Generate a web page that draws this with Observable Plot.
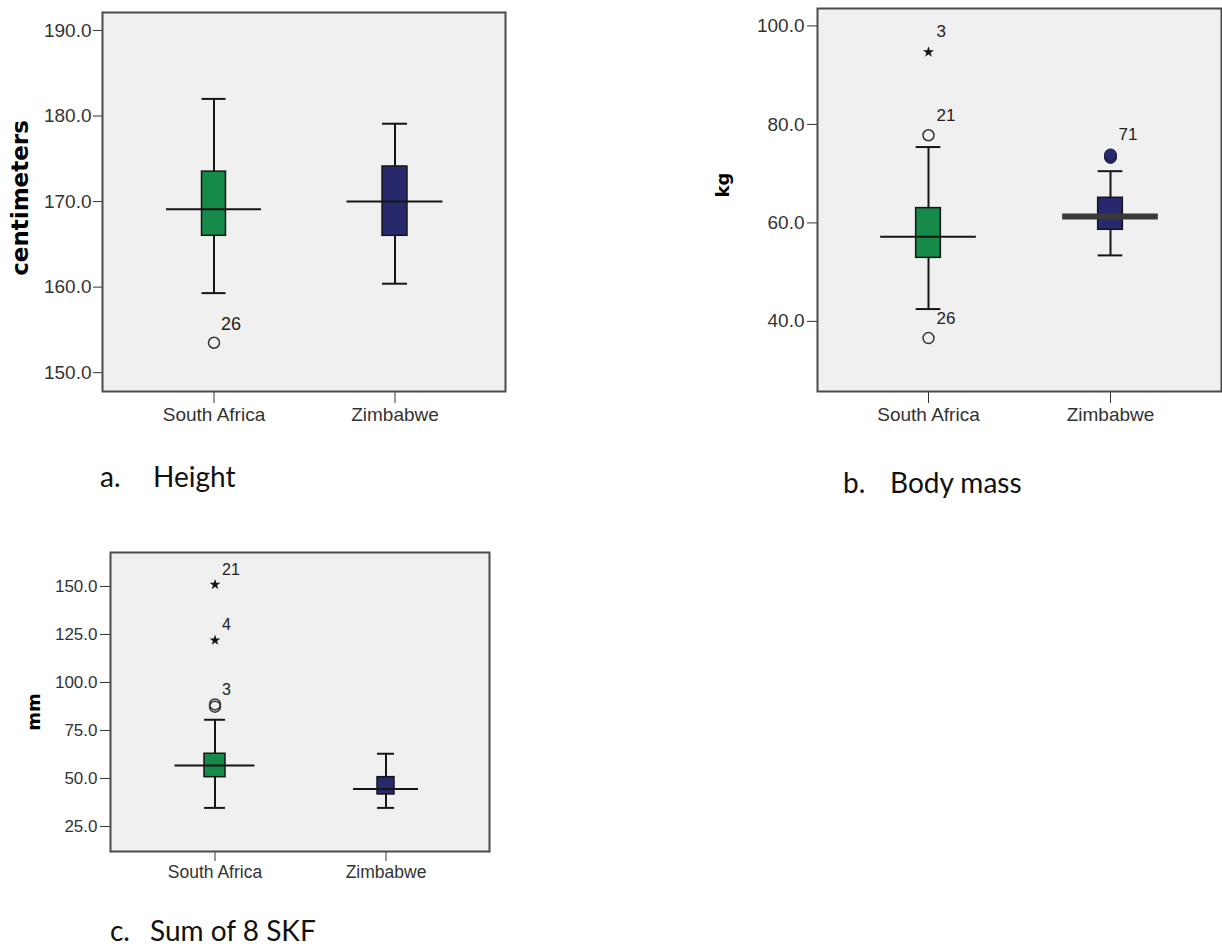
<!DOCTYPE html>
<html><head><meta charset="utf-8">
<script src="https://cdn.jsdelivr.net/npm/d3@7"></script>
<script src="https://cdn.jsdelivr.net/npm/@observablehq/plot@0.6"></script>
<style>
html,body{margin:0;padding:0;background:#fff;width:1222px;height:949px;overflow:hidden;}
#root{position:relative;width:1222px;height:949px;}
.panel{position:absolute;}
.ylab{position:absolute;font-family:"DejaVu Sans",sans-serif;font-weight:bold;color:#000;transform:translate(-50%,-50%) rotate(-90deg);white-space:nowrap;line-height:1;}
.cap{position:absolute;font-family:Lato,sans-serif;font-size:28px;color:#111;line-height:28px;white-space:nowrap;}
</style></head><body><div id="root"></div>
<script>
const countries = ["South Africa", "Zimbabwe"];
const boxColors = ["#168a48", "#28296d"];

// a. Height (centimeters)
const heightLow = [159.3, 160.4];
const heightQ1 = [166.0, 166.0];
const heightMedian = [169.1, 170.0];
const heightQ3 = [173.5, 174.1];
const heightHigh = [182.0, 179.1];
const heightOutCountry = ["South Africa"];
const heightOutValue = [153.5];
const heightOutLabel = ["26"];
const heightOutShape = ["circle"];
const heightTicks = [150, 160, 170, 180, 190];

// b. Body mass (kg)
const massLow = [42.5, 53.4];
const massQ1 = [52.9, 58.6];
const massMedian = [57.2, 61.3];
const massQ3 = [63.0, 65.1];
const massHigh = [75.4, 70.5];
const massOutCountry = ["South Africa", "South Africa", "South Africa", "Zimbabwe", "Zimbabwe"];
const massOutValue = [94.7, 77.8, 36.6, 73.3, 73.8];
const massOutLabel = ["3", "21", "26", "", "71"];
const massOutShape = ["star", "circle", "circle", "filled", "filled"];
const massTicks = [40, 60, 80, 100];

// c. Sum of 8 SKF (mm)
const skfLow = [34.7, 34.7];
const skfQ1 = [50.7, 41.7];
const skfMedian = [56.8, 44.6];
const skfQ3 = [62.9, 50.7];
const skfHigh = [80.6, 62.9];
const skfOutCountry = ["South Africa", "South Africa", "South Africa", "South Africa"];
const skfOutValue = [151.0, 122.0, 88.6, 87.4];
const skfOutLabel = ["21", "4", "3", ""];
const skfOutShape = ["star", "star", "circle", "circle"];
const skfTicks = [25, 50, 75, 100, 125, 150];

function statsRows(low, q1, med, q3, high) {
  return countries.map((c, i) => ({country: c, low: low[i], q1: q1[i], median: med[i], q3: q3[i], high: high[i]}));
}
function outlierRows(cs, vs, ls, ss) {
  return cs.map((c, i) => ({country: c, value: vs[i], label: ls[i], shape: ss[i]}));
}

function boxPanel(o) {
  const {stats, outliers, ticks, domain, width, height, m, po, boxW, medW, medStroke, medWidth,
         tickFont, catFont, labelFont, circleR, starR, dx, dy, yTick, yPad, xTick, xPad} = o;
  const bw = (width - m.left - m.right) / (countries.length + 2 * po);
  const marks = [Plot.frame({fill: "#f0f0f0"})];
  stats.forEach((d, i) => {
    const row = [d];
    const bi = (bw - boxW[i]) / 2;
    const mi = (bw - medW[i]) / 2;
    marks.push(Plot.ruleX(row, {x: "country", y1: "low", y2: "high", stroke: "#151515", strokeWidth: 2}));
    marks.push(Plot.tickY(row, {x: "country", y: "low", insetLeft: bi, insetRight: bi, stroke: "#151515", strokeWidth: 2}));
    marks.push(Plot.tickY(row, {x: "country", y: "high", insetLeft: bi, insetRight: bi, stroke: "#151515", strokeWidth: 2}));
    marks.push(Plot.barY(row, {x: "country", y1: "q1", y2: "q3", fill: boxColors[i], stroke: "#151515", strokeWidth: 1.5, insetLeft: bi, insetRight: bi}));
    marks.push(Plot.tickY(row, {x: "country", y: "median", insetLeft: mi, insetRight: mi, stroke: medStroke[i], strokeWidth: medWidth[i]}));
  });
  marks.push(Plot.dot(outliers.filter(d => d.shape === "circle"), {x: "country", y: "value", r: circleR, fill: "none", stroke: "#333", strokeWidth: 1.5}));
  marks.push(Plot.dot(outliers.filter(d => d.shape === "filled"), {x: "country", y: "value", r: circleR + 0.5, fill: boxColors[1], stroke: "#1c1c3c", strokeWidth: 1}));
  marks.push(Plot.dot(outliers.filter(d => d.shape === "star"), {x: "country", y: "value", r: starR, symbol: "star", fill: "#151515", stroke: "none"}));
  marks.push(Plot.text(outliers.filter(d => d.label), {x: "country", y: "value", text: "label", dx, dy, textAnchor: "start", fontSize: labelFont, fill: "#222"}));
  marks.push(Plot.axisY(ticks, {tickSize: yTick, tickPadding: yPad, tickFormat: d3.format(".1f"), fontSize: tickFont, color: "#333", label: null}));
  marks.push(Plot.axisX({tickSize: xTick, tickPadding: xPad, fontSize: catFont, color: "#333", label: null}));
  marks.push(Plot.frame({stroke: "#4a4a4a", strokeWidth: 2}));
  return Plot.plot({
    width, height,
    marginLeft: m.left, marginRight: m.right, marginTop: m.top, marginBottom: m.bottom,
    style: {fontFamily: '"Liberation Sans", Arial, sans-serif', fontSize: tickFont + "px", background: "transparent", color: "#333", overflow: "visible"},
    x: {type: "band", domain: countries, paddingInner: 0, paddingOuter: po, axis: null},
    y: {domain, axis: null},
    marks
  });
}

const root = document.getElementById("root");
function place(node, left, top) {
  const w = document.createElement("div");
  w.className = "panel";
  w.style.left = left + "px";
  w.style.top = top + "px";
  w.appendChild(node);
  root.appendChild(w);
}
function label(text, x, y, size, cls) {
  const d = document.createElement("div");
  d.className = cls;
  d.textContent = text;
  d.style.left = x + "px";
  d.style.top = y + "px";
  d.style.fontSize = size + "px";
  root.appendChild(d);
}

place(boxPanel({
  stats: statsRows(heightLow, heightQ1, heightMedian, heightQ3, heightHigh),
  outliers: outlierRows(heightOutCountry, heightOutValue, heightOutLabel, heightOutShape),
  ticks: heightTicks, domain: [147.8, 192.1], width: 520, height: 440,
  m: {left: 102, right: 15, top: 12, bottom: 49}, po: 0.113,
  boxW: [24, 25], medW: [95, 96], medStroke: ["#151515", "#151515"], medWidth: [2, 2],
  tickFont: 19, catFont: 19, labelFont: 18, circleR: 5.5, starR: 3.5, dx: 7, dy: -19,
  yTick: 9, yPad: 2, xTick: 12, xPad: 4
}), 0, 0);

place(boxPanel({
  stats: statsRows(massLow, massQ1, massMedian, massQ3, massHigh),
  outliers: outlierRows(massOutCountry, massOutValue, massOutLabel, massOutShape),
  ticks: massTicks, domain: [25.76, 103.54], width: 522, height: 440,
  m: {left: 117, right: 1, top: 8, bottom: 49}, po: 0.108,
  boxW: [25, 25], medW: [96, 96], medStroke: ["#151515", "#3a3a3a"], medWidth: [2, 6],
  tickFont: 19, catFont: 19, labelFont: 17, circleR: 5.5, starR: 3.5, dx: 8, dy: -20,
  yTick: 10, yPad: 3, xTick: 12, xPad: 4
}), 700, 0);

place(boxPanel({
  stats: statsRows(skfLow, skfQ1, skfMedian, skfQ3, skfHigh),
  outliers: outlierRows(skfOutCountry, skfOutValue, skfOutLabel, skfOutShape),
  ticks: skfTicks, domain: [12.0, 167.7], width: 505, height: 360,
  m: {left: 110, right: 16, top: 12, bottom: 49}, po: 0.108,
  boxW: [21, 17], medW: [80, 65], medStroke: ["#151515", "#151515"], medWidth: [2, 2],
  tickFont: 17, catFont: 17.5, labelFont: 16, circleR: 5.5, starR: 3.4, dx: 7, dy: -15,
  yTick: 10, yPad: 3, xTick: 10, xPad: 4
}), 0, 540);

label("centimeters", 20, 198, 23, "ylab");
label("kg", 723, 185, 18, "ylab");
label("mm", 34, 712, 18, "ylab");

label("a.", 100, 462, 28, "cap");
label("Height", 153, 462, 28, "cap");
label("b.", 843, 468, 28, "cap");
label("Body mass", 890, 468, 28, "cap");
label("c.", 110, 916, 28, "cap");
label("Sum of 8 SKF", 150, 916, 28, "cap");
</script></body></html>
